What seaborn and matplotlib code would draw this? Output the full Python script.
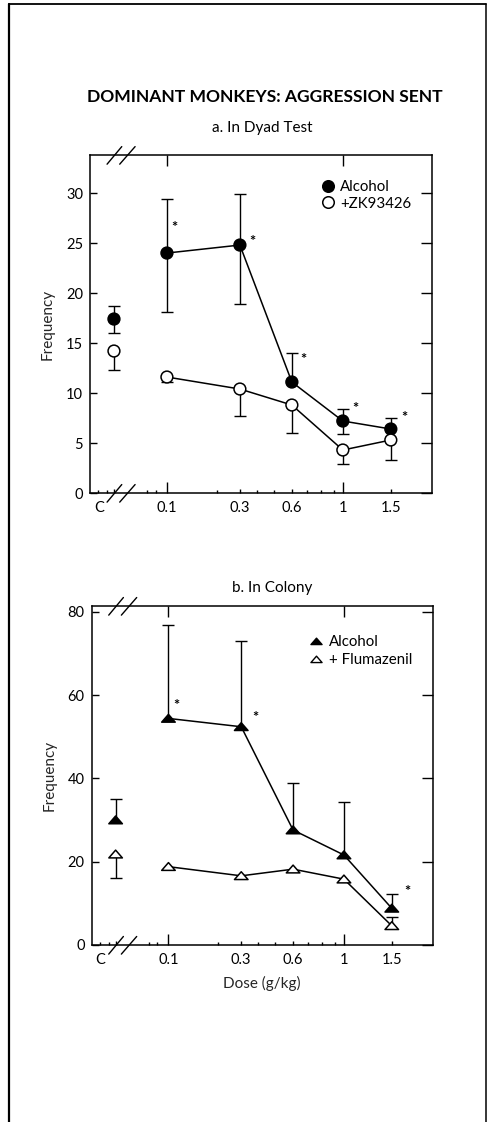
import numpy as np
import pandas as pd
import matplotlib
matplotlib.use("Agg")
import matplotlib.pyplot as plt
import seaborn as sns
from matplotlib.lines import Line2D
from matplotlib.path import Path
from matplotlib.transforms import ScaledTranslation

# ------------------------------------------------------------------ data
DOSES = [0.0, 0.1, 0.3, 0.6, 1.0, 1.5]          # 0.0 = control "C"
DOSE_LABELS = ["C", "0.1", "0.3", "0.6", "1", "1.5"]

DYAD_ALCOHOL = [17.4, 24.0, 24.8, 11.1, 7.2, 6.4]
DYAD_ALCOHOL_LOW = [16.0, 18.1, 18.9, 11.1, 5.9, 6.4]
DYAD_ALCOHOL_HIGH = [18.7, 29.4, 29.9, 14.0, 8.4, 7.5]
DYAD_ZK = [14.2, 11.6, 10.4, 8.8, 4.3, 5.3]
DYAD_ZK_LOW = [12.3, 11.1, 7.7, 6.0, 2.9, 3.3]
DYAD_ZK_HIGH = [14.2, 11.6, 10.4, 8.8, 4.3, 5.3]
DYAD_SIG = [np.nan, 26.9, 25.5, 13.7, 8.8, 7.9]

COLONY_ALCOHOL = [30.0, 54.4, 52.4, 27.6, 21.6, 8.8]
COLONY_ALCOHOL_LOW = [30.0, 54.4, 52.4, 27.6, 21.6, 8.8]
COLONY_ALCOHOL_HIGH = [35.0, 76.8, 73.0, 39.0, 34.4, 12.2]
COLONY_FLU = [21.8, 18.8, 16.6, 18.2, 15.8, 4.6]
COLONY_FLU_LOW = [16.0, 18.8, 16.6, 18.2, 15.8, 4.6]
COLONY_FLU_HIGH = [21.8, 18.8, 16.6, 18.2, 15.8, 6.6]
COLONY_SIG = [np.nan, 58.4, 55.4, np.nan, np.nan, 13.8]

DYAD_YTICKS = [0, 5, 10, 15, 20, 25, 30]
COLONY_YTICKS = [0, 20, 40, 60, 80]

# hand-drawn dose axis of the original (dose -> fraction of axis width)
SCALE_DOSE = [-0.1, 0.0, 0.1, 0.2, 0.3, 0.4, 0.5, 0.6, 0.7, 0.8, 0.9, 1.0, 1.5, 2.0]
SCALE_POS = np.array([0, 24, 77, 127, 150, 167, 184, 202, 217, 231, 244, 253, 301, 342]) / 342.0

# ------------------------------------------------------------------ style
sns.set_theme(style="white")
FONT = ["Lato", "DejaVu Sans"]
plt.rcParams["font.family"] = FONT
plt.rcParams["axes.edgecolor"] = "black"
plt.rcParams["axes.linewidth"] = 1.1
plt.rcParams["text.color"] = "black"
plt.rcParams["xtick.color"] = "black"
plt.rcParams["ytick.color"] = "black"

fig = plt.figure(figsize=(4.89, 11.22), dpi=100)
fig.patch.set_facecolor("white")

ax_a = fig.add_axes([0.184, 0.5606, 0.699, 0.3012])
ax_b = fig.add_axes([0.1875, 0.1578, 0.6973, 0.3021])

fwd = lambda d: np.interp(d, SCALE_DOSE, SCALE_POS)
inv = lambda p: np.interp(p, SCALE_POS, SCALE_DOSE)

tri = Path([(-1.0, -0.55), (1.0, -0.55), (0.0, 0.6), (-1.0, -0.55)],
           [Path.MOVETO, Path.LINETO, Path.LINETO, Path.CLOSEPOLY])


def make_df(name1, v1, name2, v2):
    return pd.DataFrame({
        "dose": DOSES * 2,
        "freq": list(v1) + list(v2),
        "treatment": [name1] * len(DOSES) + [name2] * len(DOSES),
    })


def error_bars(ax, mean, low, high):
    x = np.array(DOSES)
    mean, low, high = map(np.asarray, (mean, low, high))
    ax.vlines(x, low, high, color="black", lw=1.0, zorder=2)
    up = high > mean
    dn = low < mean
    ax.scatter(x[up], high[up], marker="_", s=70, color="black", linewidths=1.0, zorder=2)
    ax.scatter(x[dn], low[dn], marker="_", s=70, color="black", linewidths=1.0, zorder=2)


def panel(ax, df, n1, n2, marker, msize, ylim, yticks, sig, sig_dx):
    ax.set_xscale("function", functions=(fwd, inv))
    conn = df[df["dose"] > 0]
    sns.lineplot(data=conn, x="dose", y="freq", hue="treatment",
                 palette={n1: "black", n2: "black"}, legend=False,
                 lw=1.1, errorbar=None, sort=True, ax=ax, zorder=3)
    sns.scatterplot(data=df, x="dose", y="freq", hue="treatment",
                    palette={n1: "black", n2: "white"},
                    style="treatment", markers={n1: marker, n2: marker},
                    s=msize, edgecolor="black", linewidth=1.1,
                    legend=False, ax=ax, zorder=4)
    for d, s, dx in zip(DOSES, sig, sig_dx):
        if not np.isnan(s):
            ax.annotate("*", xy=(d, s), xytext=(dx, -3), textcoords="offset points",
                        ha="center", va="center", fontsize=10.5, fontweight="bold")

    ax.set_xlim(-0.1, 2.0)
    ax.set_ylim(*ylim)
    ax.set_yticks(yticks)
    ax.set_yticklabels([str(t) for t in yticks], fontsize=10.5)
    ax.set_xticks(DOSES)
    ax.set_xticklabels(DOSE_LABELS, fontsize=10.5)
    minor = list(inv(np.array([8, 17, 57, 66]) / 342.0)) + [0.2, 0.4, 0.5, 0.7, 0.8, 0.9]
    ax.set_xticks(minor, minor=True)
    ax.tick_params(axis="x", which="major", direction="in", bottom=True, top=True,
                   length=3, width=1.0, pad=6)
    ax.tick_params(axis="x", which="minor", direction="in", bottom=True, top=False,
                   length=2.5, width=1.0)
    ax.tick_params(axis="y", which="major", direction="in", left=True, right=True,
                   length=5, width=1.0, pad=5)
    for t, lab in zip(ax.xaxis.get_major_ticks(), DOSE_LABELS):
        if lab in ("0.1", "1"):
            t.tick1line.set_markersize(8)
            t.tick2line.set_markersize(8)
        else:
            t.tick2line.set_visible(False)
        if lab == "C":
            t.label1.set_transform(t.label1.get_transform() +
                                   ScaledTranslation(-15 / 100, 0, fig.dpi_scale_trans))
    for t in ax.yaxis.get_major_ticks():
        t.tick2line.set_markersize(8)
    ax.set_xlabel("")
    ax.set_ylabel("Frequency", fontsize=11)
    ax.yaxis.set_label_coords(-0.102, 0.5)
    for s in ax.spines.values():
        s.set_visible(True)
        s.set_color("black")
        s.set_linewidth(1.1)
    # axis-break marks
    for yb in (0.0, 1.0):
        for x0, x1 in ((0.05, 0.093), (0.087, 0.132)):
            ax.plot([x0, x1], [yb - 0.027, yb + 0.025], transform=ax.transAxes,
                    color="black", lw=1.0, clip_on=False, zorder=6)


# ---------------- panel a
df_a = make_df("Alcohol", DYAD_ALCOHOL, "+ZK93426", DYAD_ZK)
error_bars(ax_a, DYAD_ALCOHOL, DYAD_ALCOHOL_LOW, DYAD_ALCOHOL_HIGH)
error_bars(ax_a, DYAD_ZK, DYAD_ZK_LOW, DYAD_ZK_HIGH)
panel(ax_a, df_a, "Alcohol", "+ZK93426", "o", 72, (0, 33.8), DYAD_YTICKS,
      DYAD_SIG, [0, 5, 9, 8, 9, 10])
h_a = [Line2D([], [], ls="none", marker="o", markersize=8.3, markerfacecolor="black",
              markeredgecolor="black", markeredgewidth=1.1),
       Line2D([], [], ls="none", marker="o", markersize=8.3, markerfacecolor="white",
              markeredgecolor="black", markeredgewidth=1.1)]
ax_a.legend(h_a, ["Alcohol", "+ZK93426"], loc="upper left", bbox_to_anchor=(0.673, 0.925),
            frameon=False, fontsize=10.8, handlelength=1.0, handletextpad=0.35,
            labelspacing=0.15, borderpad=0, borderaxespad=0)

# ---------------- panel b
df_b = make_df("Alcohol", COLONY_ALCOHOL, "+ Flumazenil", COLONY_FLU)
error_bars(ax_b, COLONY_ALCOHOL, COLONY_ALCOHOL_LOW, COLONY_ALCOHOL_HIGH)
error_bars(ax_b, COLONY_FLU, COLONY_FLU_LOW, COLONY_FLU_HIGH)
panel(ax_b, df_b, "Alcohol", "+ Flumazenil", tri, 95, (0, 81.4), COLONY_YTICKS,
      COLONY_SIG, [0, 6, 10, 0, 0, 11])
ax_b.set_xlabel("Dose (g/kg)", fontsize=11, labelpad=6)
h_b = [Line2D([], [], ls="none", marker=tri, markersize=8, markerfacecolor="black",
              markeredgecolor="black", markeredgewidth=1.0),
       Line2D([], [], ls="none", marker=tri, markersize=8, markerfacecolor="white",
              markeredgecolor="black", markeredgewidth=1.0)]
ax_b.legend(h_b, ["Alcohol", "+ Flumazenil"], loc="upper left", bbox_to_anchor=(0.637, 0.914),
            frameon=False, fontsize=10.8, handlelength=1.0, handletextpad=0.35,
            labelspacing=0.25, borderpad=0, borderaxespad=0)

# ---------------- titles
fig.text(0.542, 0.9138, "DOMINANT MONKEYS: AGGRESSION SENT", ha="center", va="center",
         fontsize=12.6, fontweight="bold")
fig.text(0.537, 0.8859, "a. In Dyad Test", ha="center", va="center", fontsize=11)
fig.text(0.557, 0.4759, "b. In Colony", ha="center", va="center", fontsize=11)

# ---------------- outer frame of the figure
fig.add_artist(Line2D([0.0184, 0.0184], [0.0, 0.9964], color="black", lw=1.6))
fig.add_artist(Line2D([0.0184, 0.9939], [0.9964, 0.9964], color="black", lw=1.3))
fig.add_artist(Line2D([0.9939, 0.9939], [0.0, 0.9964], color="black", lw=1.1))

fig.savefig("out.png", dpi=100, facecolor="white")
